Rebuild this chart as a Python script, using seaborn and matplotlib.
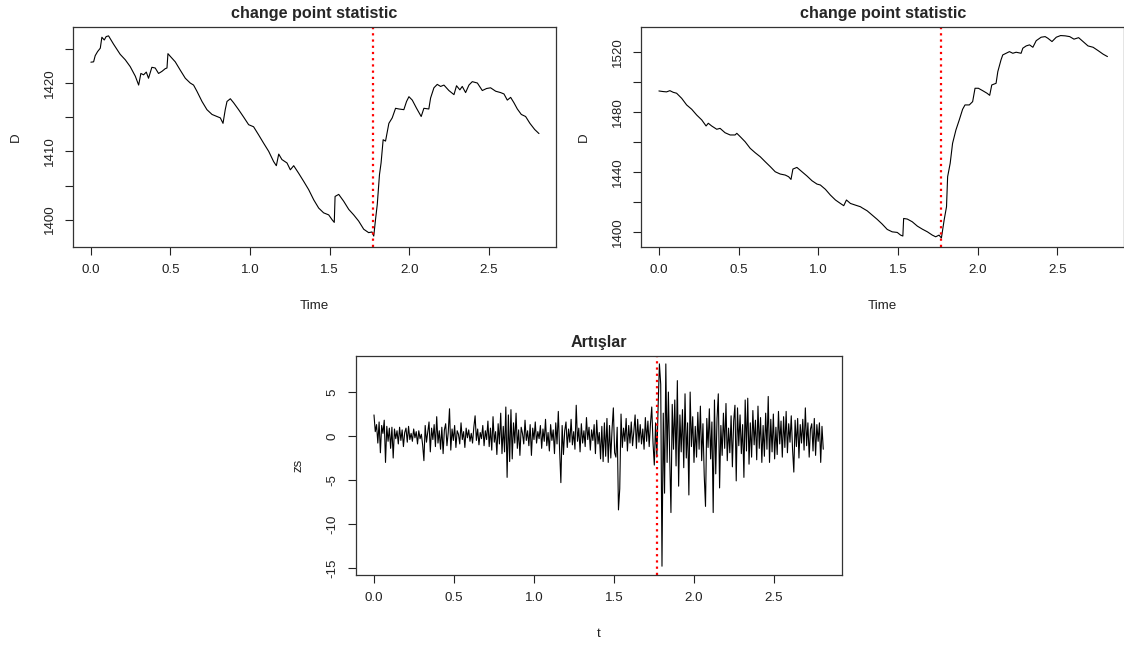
import numpy as np
import pandas as pd
import matplotlib
matplotlib.use("Agg")
import matplotlib.pyplot as plt
import seaborn as sns

# estilo parecido com o base R
sns.set_style("white")
plt.rcParams['font.family'] = ['Liberation Sans', 'DejaVu Sans']

# ---- dados ----
change_point = 1.77

# painel superior esquerdo
time_left = [0.000, 0.017, 0.027, 0.042, 0.059, 0.069, 0.084, 0.096, 0.111, 0.142,
             0.184, 0.216, 0.247, 0.279, 0.300, 0.314, 0.331, 0.348, 0.362, 0.383,
             0.404, 0.425, 0.446, 0.467, 0.478, 0.484, 0.499, 0.530, 0.561, 0.593,
             0.624, 0.645, 0.666, 0.698, 0.729, 0.761, 0.792, 0.813, 0.830, 0.844,
             0.855, 0.876, 0.897, 0.928, 0.960, 0.991, 1.022, 1.054, 1.085, 1.117,
             1.148, 1.165, 1.180, 1.200, 1.232, 1.253, 1.274, 1.305, 1.337, 1.368,
             1.400, 1.431, 1.462, 1.494, 1.515, 1.529, 1.534, 1.557, 1.588, 1.620,
             1.651, 1.682, 1.714, 1.745, 1.766, 1.777, 1.788, 1.799, 1.813, 1.823,
             1.836, 1.851, 1.872, 1.893, 1.914, 1.935, 1.966, 1.983, 1.998, 2.019,
             2.046, 2.075, 2.092, 2.123, 2.134, 2.155, 2.176, 2.197, 2.218, 2.249,
             2.281, 2.297, 2.318, 2.333, 2.354, 2.375, 2.396, 2.428, 2.459, 2.486,
             2.511, 2.543, 2.574, 2.595, 2.616, 2.637, 2.658, 2.679, 2.704, 2.731,
             2.758, 2.788, 2.815]
d_left = [1423.05, 1423.1, 1424.0, 1424.6, 1425.1, 1426.7, 1426.3, 1426.8, 1426.9, 1425.7,
          1424.2, 1423.4, 1422.4, 1421.0, 1419.7, 1421.4, 1421.2, 1421.6, 1420.7, 1422.3,
          1422.2, 1421.4, 1421.7, 1422.1, 1422.2, 1424.3, 1423.9, 1423.1, 1421.9, 1420.7,
          1420.0, 1419.7, 1418.8, 1417.3, 1416.1, 1415.4, 1415.1, 1414.9, 1414.1, 1416.1,
          1417.3, 1417.7, 1417.1, 1416.1, 1415.0, 1413.9, 1413.6, 1412.4, 1411.2, 1410.0,
          1408.5, 1407.9, 1409.6, 1408.8, 1408.3, 1407.3, 1407.9, 1406.8, 1405.6, 1404.4,
          1402.9, 1401.7, 1401.0, 1400.7, 1400.0, 1399.6, 1403.4, 1403.7, 1402.7, 1401.5,
          1400.7, 1399.8, 1398.6, 1398.1, 1398.2, 1397.6, 1400.0, 1402.2, 1406.6, 1408.3,
          1411.7, 1411.5, 1414.1, 1414.9, 1416.3, 1416.2, 1416.1, 1417.3, 1418.0, 1417.5,
          1416.3, 1415.1, 1416.3, 1416.2, 1417.8, 1419.3, 1419.8, 1419.5, 1419.7, 1418.9,
          1418.3, 1419.6, 1419.0, 1419.5, 1418.6, 1419.7, 1420.2, 1420.0, 1418.9, 1419.2,
          1419.3, 1418.8, 1418.6, 1418.4, 1417.5, 1417.9, 1417.1, 1416.2, 1415.4, 1415.1,
          1414.1, 1413.2, 1412.6]

# painel superior direito
time_right = [0.000, 0.027, 0.048, 0.069, 0.090, 0.111, 0.143, 0.174, 0.206, 0.237,
              0.269, 0.296, 0.310, 0.331, 0.363, 0.384, 0.415, 0.447, 0.478, 0.489,
              0.510, 0.541, 0.573, 0.604, 0.636, 0.667, 0.699, 0.730, 0.761, 0.793,
              0.814, 0.829, 0.841, 0.866, 0.898, 0.929, 0.961, 0.992, 1.013, 1.045,
              1.076, 1.108, 1.139, 1.160, 1.177, 1.202, 1.233, 1.265, 1.275, 1.307,
              1.338, 1.370, 1.401, 1.433, 1.464, 1.496, 1.517, 1.531, 1.536, 1.559,
              1.590, 1.622, 1.653, 1.685, 1.716, 1.737, 1.758, 1.773, 1.790, 1.805,
              1.812, 1.828, 1.843, 1.864, 1.885, 1.906, 1.921, 1.948, 1.969, 1.984,
              2.005, 2.032, 2.059, 2.076, 2.089, 2.116, 2.127, 2.147, 2.158, 2.179,
              2.200, 2.221, 2.242, 2.273, 2.284, 2.305, 2.326, 2.347, 2.368, 2.399,
              2.424, 2.441, 2.467, 2.494, 2.521, 2.550, 2.578, 2.605, 2.634, 2.662,
              2.693, 2.725, 2.756, 2.788, 2.815]
d_right = [1494.2, 1493.8, 1493.6, 1494.4, 1493.3, 1492.7, 1489.3, 1484.9, 1482.0, 1478.2,
           1474.9, 1470.9, 1472.7, 1470.9, 1468.7, 1469.3, 1466.4, 1464.9, 1464.9, 1466.0,
           1463.8, 1460.4, 1456.0, 1453.1, 1450.4, 1447.1, 1443.8, 1440.4, 1438.9, 1438.2,
           1437.1, 1435.3, 1442.2, 1443.3, 1440.4, 1437.6, 1434.4, 1432.2, 1431.6, 1428.7,
           1424.9, 1421.6, 1419.3, 1417.8, 1421.6, 1419.3, 1418.2, 1417.1, 1416.4, 1414.4,
           1411.6, 1408.7, 1405.6, 1402.0, 1400.4, 1400.0, 1398.2, 1397.6, 1409.3, 1408.9,
           1407.1, 1404.2, 1402.2, 1400.4, 1398.2, 1397.1, 1398.2, 1396.3, 1408.2, 1417.1,
           1437.1, 1446.0, 1459.3, 1468.2, 1474.9, 1482.0, 1484.9, 1484.9, 1487.1, 1496.0,
           1496.0, 1494.4, 1492.7, 1491.3, 1498.2, 1499.3, 1507.1, 1514.9, 1518.2, 1519.3,
           1520.4, 1519.3, 1520.0, 1519.3, 1522.7, 1524.2, 1524.9, 1523.3, 1527.7, 1530.0,
           1530.4, 1529.3, 1527.1, 1530.0, 1531.1, 1530.9, 1530.4, 1528.7, 1529.7, 1527.1,
           1524.2, 1523.3, 1521.1, 1518.7, 1517.1]

# painel inferior: incrementos (série temporal regular)
zs_step = 0.008
zs = [2.4, 0.5, 1.3, -0.8, 1.6, -1.9, 1.2, 0.3, 1.8, -3.0,
      1.1, -0.6, 0.9, -1.4, 1.0, -2.5, 0.8, -0.3, 0.6, -0.9,
      1.0, -0.5, 0.7, -1.2, 0.4, 0.9, -0.7, 1.1, -0.4, 0.3,
      -0.6, 0.8, -0.2, 0.5, -0.9, 0.6, -0.3, 0.2, -1.0, -2.8,
      1.2, -0.7, 0.5, 1.6, -1.8, 0.9, -0.4, 1.3, -1.2, 2.2,
      -0.8, 0.6, -1.5, 1.0, -2.0, 0.7, 1.4, -1.1, 0.4, 3.1,
      -1.6, 0.8, -0.5, 1.2, -1.3, 0.6, 0.2, -0.9, 1.5, -0.4,
      0.5, -1.3, 0.9, -0.2, 0.7, -0.6, 0.3, -0.8, 1.0, 2.3,
      -0.5, 0.8, -1.0, 0.4, -0.3, 1.2, -1.1, 0.6, -0.4, 1.7,
      -1.2, 0.9, -1.6, 2.2, -0.7, 0.5, -2.1, 1.4, -0.9, 2.6,
      -2.0, 1.1, -1.8, 3.3, -4.7, 2.4, -2.9, 3.0, -2.6, 1.5,
      -0.8, 2.6, -1.4, 0.7, -2.2, 1.0, 0.3, -0.9, 1.8, -0.5,
      0.6, -1.1, 1.3, -2.2, 0.9, -0.4, 1.6, -0.8, 0.5, -0.3,
      1.2, -1.4, 0.8, -0.6, 1.9, -1.1, 0.4, -1.7, 1.3, -0.5,
      0.7, -2.0, 1.5, -0.9, 2.8, -1.5, -5.3, 1.2, -2.1, 0.6,
      1.6, -1.3, 0.8, -0.7, 1.9, -1.0, 0.5, -1.5, 3.5, -0.6,
      0.9, -1.8, 1.4, -0.8, 0.6, -1.2, 2.1, -0.4, 1.0, -1.6,
      0.7, -0.5, 1.3, -2.0, 1.8, -0.9, 0.4, -2.6, 1.1, -2.9,
      1.5, -2.3, 2.0, -3.0, 1.2, -2.5, 0.8, 3.2, -1.9, -2.4,
      1.0, -8.4, -6.0, 2.5, -1.3, 0.9, -0.6, 2.0, -1.7, 1.2,
      -0.8, 1.6, -1.1, 0.5, 2.4, -1.4, 1.9, -0.7, 1.3, -0.9,
      0.8, -1.5, 2.1, -0.6, 1.7, -1.2, 1.4, 3.3, -0.8, -3.3,
      1.5, -2.4, 3.5, 8.2, 5.9, -14.8, 2.6, -6.5, 8.2, -3.0,
      5.0, -2.2, -8.7, 3.6, -1.5, 4.1, -3.4, 6.3, -5.7, 2.4,
      -1.8, 3.0, -3.6, 4.8, -2.5, 1.5, -6.7, 5.0, -1.2, 2.2,
      -3.0, 1.1, -2.4, 2.7, -1.5, 3.4, -2.8, 1.4, -4.5, -8.0,
      2.0, -1.3, 3.1, -2.6, 1.6, -8.7, 4.1, -4.3, 2.0, 4.8,
      -5.9, 1.2, -2.2, 2.6, -1.4, 3.7, -2.8, 0.9, -1.9, 2.3,
      -3.5, 1.7, 3.5, -5.1, 3.2, -1.1, 2.4, -2.0, 1.3, -4.7,
      4.1, -1.7, 4.3, -3.2, 1.5, -2.4, 2.9, -1.0, 1.8, -2.7,
      3.4, -1.4, 2.1, -3.0, 1.2, -2.3, 2.6, -1.5, 4.5, -3.0,
      1.9, -1.8, 2.5, -2.6, 1.0, -2.1, 2.8, -0.9, 1.7, -2.4,
      2.2, -1.3, 2.8, -1.9, 1.4, -0.7, 2.3, -1.5, -4.1, 1.8,
      -1.2, 2.0, -2.5, 1.3, -0.8, 1.9, -1.6, 3.2, -1.1, 1.5,
      -2.4, 0.8, 1.4, -1.7, 2.0, -2.2, 1.3, -0.6, 1.5, -3.0,
      1.1, -1.5]

x_ticks = [0.0, 0.5, 1.0, 1.5, 2.0, 2.5]
x_tick_labels = ['0.0', '0.5', '1.0', '1.5', '2.0', '2.5']
left_ticks = [1400, 1405, 1410, 1415, 1420, 1425]
left_tick_labels = ['1400', '', '1410', '', '1420', '']
right_ticks = [1400, 1420, 1440, 1460, 1480, 1500, 1520]
right_tick_labels = ['1400', '', '1440', '', '1480', '', '1520']
zs_ticks = [-15, -10, -5, 0, 5]
zs_tick_labels = ['-15', '-10', '-5', '0', '5']

FS = 9.6


def estilo_r(ax, title, xlabel, ylabel, yticks, ylabels, ylim):
    """Deixa o eixo com cara de gráfico base do R."""
    ax.set_xlim(-0.1124, 2.922)
    ax.set_ylim(*ylim)
    ax.set_xticks(x_ticks)
    ax.set_xticklabels(x_tick_labels)
    ax.set_yticks(yticks)
    ax.set_yticklabels(ylabels)
    plt.setp(ax.get_yticklabels(), rotation=90, va='center')
    ax.tick_params(direction='out', length=6, width=0.8, pad=6.5,
                   labelsize=FS, colors='#222222', left=True, bottom=True)
    for sp in ax.spines.values():
        sp.set_color('#333333')
        sp.set_linewidth(0.9)
    ax.set_title(title, fontsize=11.6, fontweight='bold', pad=6.5)
    ax.set_xlabel(xlabel, fontsize=FS, labelpad=17, color='#222222')
    ax.set_ylabel(ylabel, fontsize=FS, labelpad=16, color='#222222')
    ax.axvline(change_point, color='red', linewidth=1.6,
               linestyle=(0, (1.0, 1.8)))


fig = plt.figure(figsize=(11.24, 6.46), dpi=100)
ax1 = fig.add_axes([0.06495, 0.61765, 0.42972, 0.34056])
ax2 = fig.add_axes([0.57028, 0.61765, 0.43016, 0.34056])
ax3 = fig.add_axes([0.31673, 0.10991, 0.43194, 0.33901])

df_left = pd.DataFrame({'Time': time_left, 'D': d_left})
df_right = pd.DataFrame({'Time': time_right, 'D': d_right})
df_zs = pd.DataFrame({'t': np.arange(len(zs)) * zs_step, 'zs': zs})

sns.lineplot(data=df_left, x='Time', y='D', ax=ax1, color='black',
             linewidth=0.8, estimator=None, sort=False)
sns.lineplot(data=df_right, x='Time', y='D', ax=ax2, color='black',
             linewidth=0.8, estimator=None, sort=False)
sns.lineplot(data=df_zs, x='t', y='zs', ax=ax3, color='black',
             linewidth=0.8, estimator=None, sort=False)

estilo_r(ax1, 'change point statistic', 'Time', 'D',
         left_ticks, left_tick_labels, (1396.0, 1428.2))
estilo_r(ax2, 'change point statistic', 'Time', 'D',
         right_ticks, right_tick_labels, (1390.3, 1536.8))
estilo_r(ax3, 'Artışlar', 't', 'zs',
         zs_ticks, zs_tick_labels, (-15.8, 9.1))

fig.savefig('out.png', dpi=100, facecolor='white')
